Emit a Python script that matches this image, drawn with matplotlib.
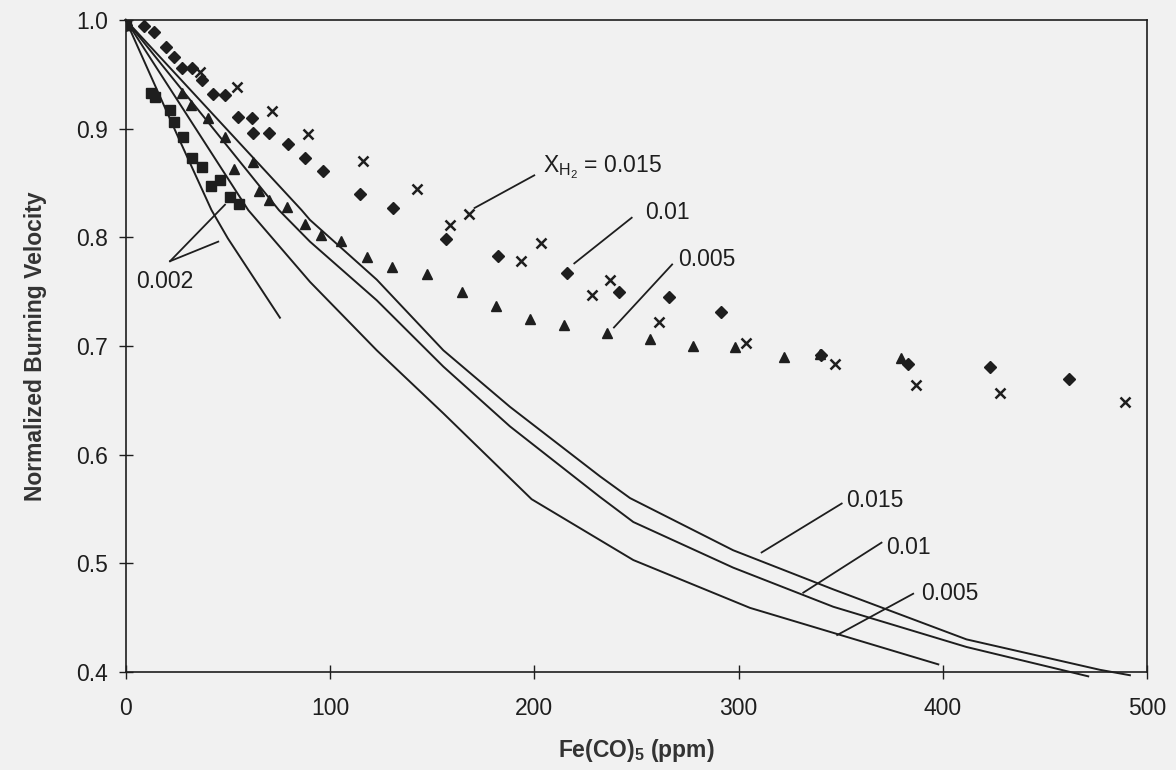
import matplotlib
matplotlib.use('Agg')
import matplotlib.pyplot as plt

plt.rcParams['font.family'] = ['Liberation Sans', 'DejaVu Sans']
plt.rcParams['mathtext.fontset'] = 'custom'
plt.rcParams['mathtext.rm'] = 'Liberation Sans'
plt.rcParams['mathtext.it'] = 'Liberation Sans'
plt.rcParams['mathtext.bf'] = 'Liberation Sans:bold'

# measured data (symbols), one series per H2 mole fraction
x_002 = [0, 12.5, 14.5, 21.7, 23.8, 28.2, 32.6, 37.2, 41.8, 46.2, 51.1, 55.5]
y_002 = [0.995, 0.933, 0.929, 0.917, 0.906, 0.892, 0.873, 0.865, 0.847, 0.853, 0.837, 0.831]

x_005 = [0, 27.4, 32.0, 40.4, 48.6, 53.2, 62.5, 65.2, 70.1, 79.1, 87.8, 95.8, 105.3,
         118.2, 130.6, 147.6, 164.8, 181.5, 198.1, 214.8, 235.7, 256.6, 277.5, 298.2,
         322.4, 339.8, 379.3]
y_005 = [0.995, 0.933, 0.922, 0.910, 0.892, 0.863, 0.869, 0.843, 0.834, 0.828, 0.812,
         0.802, 0.797, 0.782, 0.773, 0.766, 0.750, 0.737, 0.725, 0.719, 0.712, 0.706,
         0.700, 0.699, 0.690, 0.693, 0.689]

x_01 = [0, 9.1, 14.0, 19.7, 23.8, 27.4, 32.6, 37.5, 42.9, 48.6, 54.8, 61.7, 62.2, 70.1,
        79.3, 87.8, 96.7, 114.7, 131.0, 156.9, 182.4, 216.0, 241.4, 266.1, 291.2, 340.5,
        383.1, 423.1, 461.9]
y_01 = [0.995, 0.994, 0.989, 0.975, 0.966, 0.956, 0.956, 0.945, 0.932, 0.931, 0.911,
        0.910, 0.896, 0.896, 0.886, 0.873, 0.861, 0.840, 0.827, 0.798, 0.783, 0.767,
        0.750, 0.745, 0.731, 0.692, 0.683, 0.681, 0.670]

x_015 = [0, 36.4, 54.3, 71.5, 89.4, 116.3, 142.7, 158.7, 168.2, 193.3, 203.1, 228.2,
         237.1, 261.2, 303.6, 347.3, 386.8, 427.9, 489.3]
y_015 = [0.995, 0.952, 0.938, 0.916, 0.895, 0.870, 0.844, 0.811, 0.821, 0.778, 0.795,
         0.747, 0.761, 0.722, 0.703, 0.683, 0.664, 0.657, 0.648]

# model curves (solid lines)
cx_002 = [0, 25, 42, 50, 75.5]
cy_002 = [1.0, 0.895, 0.825, 0.799, 0.726]

cx_005 = [0, 60, 90.2, 122.9, 155.5, 198.7, 248.5, 305.6, 346.4, 397.8]
cy_005 = [1.0, 0.825, 0.759, 0.696, 0.638, 0.559, 0.503, 0.459, 0.436, 0.407]

cx_01 = [0, 75, 90.2, 122.9, 155.5, 188.1, 232.2, 248.5, 297.4, 346.4, 411.6, 471.2]
cy_01 = [1.0, 0.825, 0.796, 0.742, 0.681, 0.626, 0.561, 0.538, 0.496, 0.460, 0.423, 0.396]

cx_015 = [0, 86.1, 90.2, 122.9, 155.5, 188.1, 232.2, 246.9, 297.4, 346.4, 411.6, 476.9, 491.6]
cy_015 = [1.0, 0.825, 0.816, 0.761, 0.696, 0.644, 0.580, 0.560, 0.512, 0.476, 0.430, 0.402, 0.397]

x_ticks = [0, 100, 200, 300, 400, 500]
y_ticks = [0.4, 0.5, 0.6, 0.7, 0.8, 0.9, 1.0]

bg = '#f1f1f1'
ink = '#1e1e1e'

fig = plt.figure(figsize=(11.76, 7.7), dpi=100, facecolor=bg)
ax = fig.add_axes([0.1069, 0.1273, 0.8685, 0.8468], facecolor=bg)

# model lines
for cx, cy in [(cx_002, cy_002), (cx_005, cy_005), (cx_01, cy_01), (cx_015, cy_015)]:
    ax.plot(cx, cy, color=ink, lw=1.4, clip_on=False, zorder=2)

# data points
ax.plot(x_002, y_002, 's', color=ink, ms=7, zorder=3)
ax.plot(x_005, y_005, '^', color=ink, ms=7.5, zorder=3)
ax.plot(x_01, y_01, 'D', color=ink, ms=6, zorder=3)
ax.plot(x_015, y_015, 'x', color=ink, ms=7.5, mew=1.8, zorder=3)

# labels with leader lines
fs = 16.5
leaders = [
    ((200, 0.857), (170.8, 0.827)),
    ((247.7, 0.818), (219.6, 0.776)),
    ((267.5, 0.775), (239, 0.717)),
    ((21.7, 0.778), (48.6, 0.830)),
    ((21.7, 0.778), (45.3, 0.796)),
    ((350.5, 0.555), (311.3, 0.510)),
    ((370, 0.519), (331.7, 0.473)),
    ((385.5, 0.472), (348.3, 0.434)),
]
for (x0, y0), (x1, y1) in leaders:
    ax.plot([x0, x1], [y0, y1], color=ink, lw=1.3, zorder=2)

ax.text(204.4, 0.860, r'$\mathrm{X_{H_2}}$ = 0.015', fontsize=fs, va='baseline', color=ink)
ax.text(254.2, 0.817, '0.01', fontsize=fs, va='baseline', color=ink)
ax.text(270.5, 0.774, '0.005', fontsize=fs, va='baseline', color=ink)
ax.text(4.9, 0.753, '0.002', fontsize=fs, va='baseline', color=ink)
ax.text(352.9, 0.552, '0.015', fontsize=fs, va='baseline', color=ink)
ax.text(372.5, 0.509, '0.01', fontsize=fs, va='baseline', color=ink)
ax.text(389.3, 0.466, '0.005', fontsize=fs, va='baseline', color=ink)

ax.set_xlim(0, 500)
ax.set_ylim(0.4, 1.0)
ax.set_xticks(x_ticks)
ax.set_yticks(y_ticks)
ax.set_yticklabels(['%.1f' % v for v in y_ticks])
ax.tick_params(direction='inout', length=10, width=1, labelsize=fs, colors=ink)
ax.tick_params(axis='x', pad=13)
ax.tick_params(axis='y', pad=8)

for s in ax.spines.values():
    s.set_color(ink)
    s.set_linewidth(1.2)

ax.set_xlabel(r'Fe(CO)$_\mathbf{5}$ (ppm)', fontsize=fs, fontweight='bold', color='#333333', labelpad=12)
ax.set_ylabel('Normalized Burning Velocity', fontsize=fs, fontweight='bold', color='#333333', labelpad=21)

fig.savefig('out.png', dpi=100, facecolor=bg)
